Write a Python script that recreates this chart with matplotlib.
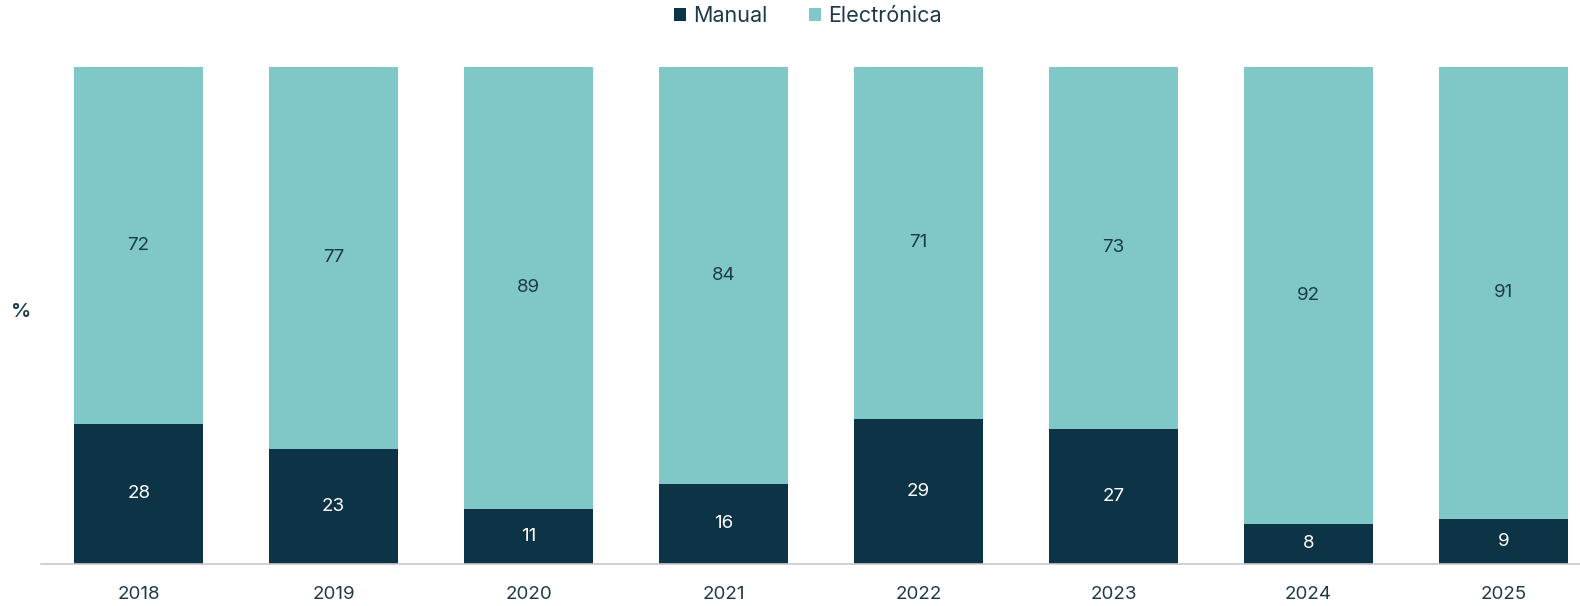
import matplotlib.pyplot as plt
import numpy as np

plt.rcParams['font.family'] = ['Inter', 'DejaVu Sans']

years = ['2018', '2019', '2020', '2021', '2022', '2023', '2024', '2025']
manual = [28, 23, 11, 16, 29, 27, 8, 9]
electronica = [72, 77, 89, 84, 71, 73, 92, 91]

dark = '#0c3346'
teal = '#80c8c8'
txt = '#1d3a4c'

fig = plt.figure(figsize=(15.8, 6.06), dpi=100)
ax = fig.add_axes([41 / 1580, 42.5 / 606, 1 - 41 / 1580, 497 / 606])

x = np.arange(len(years))
b1 = ax.bar(x, manual, width=0.662, color=dark, label='Manual')
b2 = ax.bar(x, electronica, bottom=manual, width=0.662, color=teal, label='Electrónica')

for i in range(len(years)):
    ax.text(x[i], manual[i] / 2, str(manual[i]), ha='center', va='center',
            color='white', fontsize=13.5)
    ax.text(x[i], manual[i] + electronica[i] / 2, str(electronica[i]),
            ha='center', va='center', color=txt, fontsize=13.5)

ax.set_xlim(-0.501, 7.392)
ax.set_ylim(0, 100)
ax.set_xticks(x)
ax.set_xticklabels(years, fontsize=13.5, color=txt)
ax.tick_params(axis='x', length=0, pad=16)
ax.set_yticks([])
for s in ['top', 'right', 'left']:
    ax.spines[s].set_visible(False)
ax.spines['bottom'].set_color('#c8c8c8')
ax.spines['bottom'].set_linewidth(1.2)

fig.text(21 / 1580, 1 - 312 / 606, '%', ha='center', va='center',
         fontsize=14.5, color=txt, fontweight='semibold')

fig.legend(handles=[b1, b2], loc='center', bbox_to_anchor=(808 / 1580, 1 - 16 / 606),
           ncol=2, frameon=False, fontsize=15.5, labelcolor=txt,
           handlelength=0.55, handleheight=0.55, handletextpad=0.35, columnspacing=1.9)

fig.savefig('out.png', dpi=100)
